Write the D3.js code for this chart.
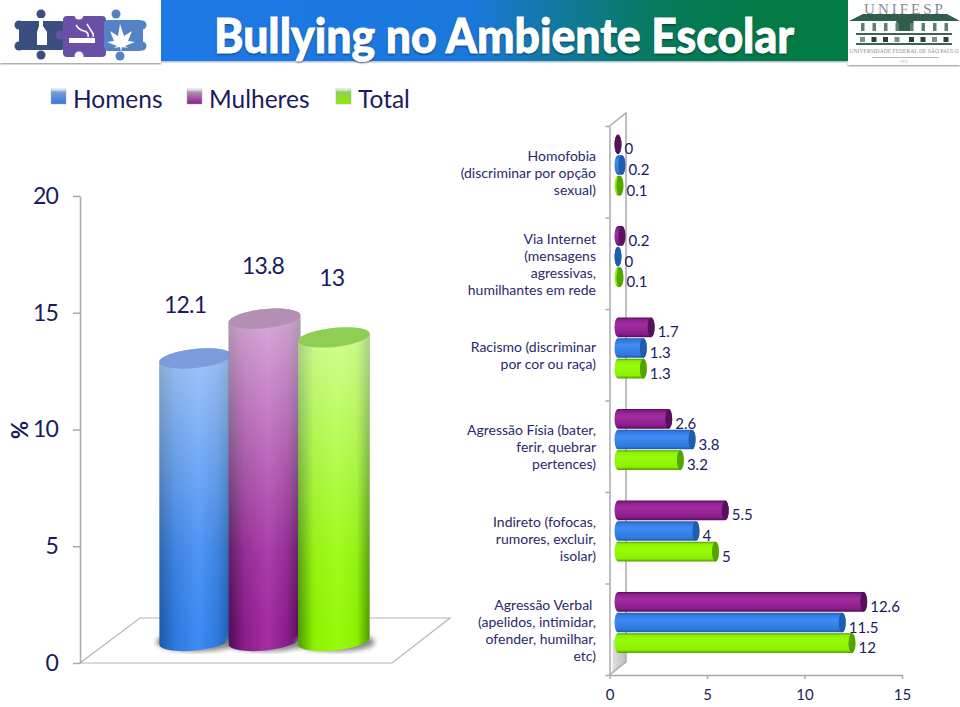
<!DOCTYPE html>
<html>
<head>
<meta charset="utf-8">
<script src="https://cdn.jsdelivr.net/npm/d3@7"></script>
<style>
  html, body { margin: 0; padding: 0; background: #fff; }
  svg { display: block; }
  text { font-family: Lato, "Open Sans", sans-serif; fill: #1b1a5e; }
</style>
</head>
<body>
<div id="map"></div>
<script>
// left chart
const seriesNames = ["Homens", "Mulheres", "Total"];
const overallValues = [12.1, 13.8, 13];
const overallTicks = [0, 5, 10, 15, 20];

// right chart, top row first
const categories = [
  ["Homofobia", "(discriminar por opção", "sexual)"],
  ["Via Internet", "(mensagens", "agressivas,", "humilhantes em rede"],
  ["Racismo (discriminar", "por cor ou raça)"],
  ["Agressão Físia (bater,", "ferir, quebrar", "pertences)"],
  ["Indireto (fofocas,", "rumores, excluir,", "isolar)"],
  ["Agressão Verbal\u00a0", "(apelidos, intimidar,", "ofender, humilhar,", "etc)"]
];
const mulheres = [0, 0.2, 1.7, 2.6, 5.5, 12.6];
const homens = [0.2, 0, 1.3, 3.8, 4, 11.5];
const total = [0.1, 0.1, 1.3, 3.2, 5, 12];
const typeTicks = [0, 5, 10, 15];

const colors = {
  Homens: { light: "#3f8cf5", mid: "#2f78dc", dark: "#1c5aa8", top: "#7b9bdb" },
  Mulheres: { light: "#a32ea3", mid: "#8a1c8a", dark: "#4f0f56", top: "#b48fb4" },
  Total: { light: "#98fb0a", mid: "#8cf000", dark: "#4e9a00", top: "#8fce55" }
};

const svg = d3.select("#map").append("svg").attr("width", 960).attr("height", 707);
const defs = svg.append("defs");

function gradient(id, vertical, stops) {
  const g = defs.append("linearGradient").attr("id", id)
    .attr("x1", 0).attr("y1", 0)
    .attr("x2", vertical ? 0 : 1).attr("y2", vertical ? 1 : 0);
  stops.forEach(function(s) {
    g.append("stop").attr("offset", s[0]).attr("stop-color", s[1]).attr("stop-opacity", s[2] === undefined ? 1 : s[2]);
  });
}

seriesNames.forEach(function(name) {
  const c = colors[name];
  gradient("col" + name, false, [[0, c.dark], [0.22, c.mid], [0.55, c.light], [0.82, c.mid], [1, c.dark]]);
  gradient("bar" + name, true, [[0, c.dark], [0.1, c.mid], [0.35, c.light], [0.85, c.mid], [1, c.dark]]);
  gradient("swatch" + name, true, [[0, "#fff", 1], [0.2, c.top], [1, c.mid]]);
});

defs.append("linearGradient").attr("id", "fade")
  .attr("gradientUnits", "userSpaceOnUse")
  .attr("x1", 0).attr("x2", 0).attr("y1", 320).attr("y2", 630)
  .call(function(g) {
    g.append("stop").attr("offset", 0).attr("stop-color", "#fff").attr("stop-opacity", 0.58);
    g.append("stop").attr("offset", 0.75).attr("stop-color", "#fff").attr("stop-opacity", 0.08);
    g.append("stop").attr("offset", 1).attr("stop-color", "#fff").attr("stop-opacity", 0);
  });

gradient("header", false, [[0, "#1e78e6"], [0.45, "#1a78dc"], [0.72, "#067a5c"], [0.88, "#027a45"], [1, "#027a45"]]);
gradient("wallShade", false, [[0, "#d8d8d8"], [1, "#b4b4b4"]]);
defs.append("filter").attr("id", "blur").append("feGaussianBlur").attr("stdDeviation", 2.5);
defs.append("filter").attr("id", "blurSmall").append("feGaussianBlur").attr("stdDeviation", 1.2);

drawHeader();
drawLegend();
drawOverall();
drawTypes();

// header band and the two logos
function drawHeader() {
  svg.append("rect").attr("x", 0).attr("y", 61).attr("width", 161).attr("height", 3).attr("fill", "#888").attr("filter", "url(#blurSmall)");
  svg.append("rect").attr("x", 161).attr("y", 60).attr("width", 687).attr("height", 2).attr("fill", "#8a9bb8").attr("filter", "url(#blurSmall)");
  svg.append("rect").attr("x", 848).attr("y", 63).attr("width", 112).attr("height", 3).attr("fill", "#888").attr("filter", "url(#blurSmall)");
  svg.append("rect").attr("x", 161).attr("y", 0).attr("width", 687).attr("height", 61).attr("fill", "url(#header)");
  svg.append("rect").attr("x", 0).attr("y", 0).attr("width", 161).attr("height", 63).attr("fill", "#fff");
  svg.append("rect").attr("x", 848).attr("y", 0).attr("width", 112).attr("height", 65).attr("fill", "#fff");

  svg.append("text").attr("x", 214).attr("y", 54).attr("textLength", 580).attr("lengthAdjust", "spacingAndGlyphs")
    .attr("filter", "url(#blurSmall)")
    .style("fill", "#123").style("font-size", "48px").style("font-weight", 900)
    .text("Bullying no Ambiente Escolar");
  svg.append("text").attr("x", 214).attr("y", 53).attr("textLength", 580).attr("lengthAdjust", "spacingAndGlyphs")
    .style("fill", "#fff").style("stroke", "#fff").style("stroke-width", 0.9).style("font-size", "48px").style("font-weight", 900)
    .text("Bullying no Ambiente Escolar");

  // puzzle pieces
  const logo = svg.append("g");
  const pieces = [
    { x: 19, w: 46, y: 21, h: 29, color: "#3b4e80", knobs: [[41, 14], [41, 55], [19, 25], [19, 46]] },
    { x: 63, w: 43, y: 16, h: 41, color: "#6a4fa6", knobs: [[60, 35]] },
    { x: 104, w: 39, y: 20, h: 31, color: "#5482c6", knobs: [[116, 14], [120, 56], [142, 25], [142, 46]] }
  ];
  pieces.forEach(function(p) {
    logo.append("rect").attr("x", p.x).attr("y", p.y).attr("width", p.w).attr("height", p.h).attr("rx", 4).attr("fill", p.color);
    p.knobs.forEach(function(k) {
      logo.append("circle").attr("cx", k[0]).attr("cy", k[1]).attr("r", 4.5).attr("fill", p.color);
    });
  });
  logo.append("circle").attr("cx", 79).attr("cy", 15).attr("r", 4.5).attr("fill", "#fff");
  logo.append("circle").attr("cx", 79).attr("cy", 56).attr("r", 4.5).attr("fill", "#fff");
  logo.append("path").attr("fill", "#fff").attr("d", "M39 18h4v8l4 6v13h-10v-13l2-6z");
  logo.append("rect").attr("x", 69).attr("y", 38).attr("width", 26).attr("height", 5).attr("fill", "#fff");
  logo.append("path").attr("fill", "none").attr("stroke", "#fff").attr("stroke-width", 1.5)
    .attr("d", "M76 25q3 5 8 6t4 6M87 24q3 5 5 8t1 5");
  logo.append("path").attr("fill", "#fff")
    .attr("d", "M120 24l4 12 8-5-4 10 7 1-10 4 3 2-6-1-1 5-1-5-6 1 3-2-10-4 7-1-4-10 8 5z");

  // university logo
  const uni = svg.append("g");
  uni.append("text").attr("x", 905).attr("y", 14).attr("text-anchor", "middle")
    .style("font-family", "'Liberation Serif', serif").style("font-size", "15px").style("letter-spacing", "3px").style("fill", "#8b8794").text("UNIFESP");
  uni.append("path").attr("fill", "#2f5f4a").attr("d", "M849 21l14-7h84l13 7z");
  uni.append("path").attr("fill", "#2f5f4a").attr("d", "M896 20l9-4 9 4-2 11h-14z");
  d3.range(8).forEach(function(i) {
    const px = 861 + i * 11.5 + (i > 3 ? 3 : 0);
    uni.append("rect").attr("x", px).attr("y", 23).attr("width", 3.5).attr("height", 8).attr("fill", "#5f7d70");
    uni.append("rect").attr("x", px - 1).attr("y", 37).attr("width", 5).attr("height", 5).attr("fill", i % 3 ? "#2d3f38" : "#7a9186");
  });
  uni.append("rect").attr("x", 856).attr("y", 33).attr("width", 96).attr("height", 2).attr("fill", "#3d6353");
  uni.append("rect").attr("x", 856).attr("y", 43).attr("width", 96).attr("height", 2).attr("fill", "#3d6353");
  uni.append("text").attr("x", 904).attr("y", 53).attr("text-anchor", "middle")
    .style("font-family", "'Liberation Serif', serif").style("font-size", "5.6px").style("fill", "#8f8f8f").text("UNIVERSIDADE FEDERAL DE SÃO PAULO");
  uni.append("rect").attr("x", 872).attr("y", 57).attr("width", 67).attr("height", 0.7).attr("fill", "#999");
  uni.append("text").attr("x", 904).attr("y", 63).attr("text-anchor", "middle")
    .style("font-family", "'Liberation Serif', serif").style("font-size", "4px").style("fill", "#aaa").text("1933");
}

function drawLegend() {
  const swatchX = { Homens: 51, Mulheres: 187, Total: 336 };
  const textX = { Homens: 73, Mulheres: 209, Total: 358 };
  const g = svg.append("g").selectAll("g").data(seriesNames).enter().append("g");
  g.append("rect")
    .attr("x", function(d) { return swatchX[d]; })
    .attr("y", 89).attr("width", 15).attr("height", 15)
    .attr("fill", function(d) { return "url(#swatch" + d + ")"; })
    .attr("stroke", "#aab").attr("stroke-width", 0.5);
  g.append("text")
    .attr("x", function(d) { return textX[d]; })
    .attr("y", 108).style("font-size", "24.5px")
    .text(function(d) { return d; });
}

// cylinder column chart
function drawOverall() {
  const y = d3.scaleLinear().domain([0, 20]).range([663, 196]);
  const x = d3.scaleBand().domain(seriesNames).range([160, 368]).padding(0);
  const depthY = -22;
  const rx = 36, ry = 9.5, tilt = 6 * Math.PI / 180;
  const dx = rx * Math.cos(tilt), dy = rx * Math.sin(tilt);

  // floor
  svg.append("path").attr("fill", "#fff").attr("stroke", "#b5b5bd").attr("stroke-width", 1.2)
    .attr("d", d3.line()([[80, y(0)], [392, y(0)], [450, 618], [140, 618]]) + "Z");

  const axis = svg.append("g").attr("transform", "translate(80,0)")
    .call(d3.axisLeft(y).tickValues(overallTicks).tickSize(7).tickSizeOuter(0).tickPadding(15));
  axis.selectAll("path,line").attr("stroke", "#a9a9b5").attr("stroke-width", 1.5);
  axis.selectAll("text").style("font-size", "23px").style("letter-spacing", "-0.8px").style("font-family", "Lato, sans-serif").attr("fill", "#1b1a5e");

  svg.append("text").attr("transform", "translate(28,430) rotate(-90)")
    .attr("text-anchor", "middle").style("font-size", "22px").style("font-weight", 700).text("%");

  const data = seriesNames.map(function(n, i) { return { name: n, value: overallValues[i] }; });
  const cols = svg.append("g").selectAll("g").data(data).enter().append("g");

  function cx(d) { return x(d.name) + x.bandwidth() / 2 + 0.5; }

  cols.append("ellipse")
    .attr("cx", function(d) { return cx(d) + 1; })
    .attr("cy", y(0) + depthY + 1).attr("rx", rx + 4).attr("ry", ry)
    .attr("fill", "#888").attr("filter", "url(#blur)");

  function body(d) {
    const c = cx(d), top = y(d.value) + depthY, base = y(0) + depthY;
    return "M" + (c - dx) + "," + (top + dy) +
      "L" + (c - dx) + "," + (base + dy) +
      "A" + rx + "," + ry + " -6 0 0 " + (c + dx) + "," + (base - dy) +
      "L" + (c + dx) + "," + (top - dy) +
      "A" + rx + "," + ry + " -6 0 0 " + (c - dx) + "," + (top + dy) + "Z";
  }
  cols.append("path").attr("d", body).attr("fill", function(d) { return "url(#col" + d.name + ")"; });
  cols.append("path").attr("d", body).attr("fill", "url(#fade)");
  cols.append("ellipse")
    .attr("transform", function(d) { return "translate(" + cx(d) + "," + (y(d.value) + depthY) + ") rotate(-6)"; })
    .attr("rx", rx).attr("ry", ry)
    .attr("fill", function(d) { return colors[d.name].top; });

  const labelDx = { Homens: -10, Mulheres: -1.5, Total: -2 };
  const labelDy = { Homens: -45, Mulheres: -45, Total: -51 };
  cols.append("text")
    .attr("x", function(d) { return cx(d) + labelDx[d.name]; })
    .attr("y", function(d) { return y(d.value) + depthY + labelDy[d.name]; })
    .attr("text-anchor", "middle").style("font-size", "23px").style("letter-spacing", "-0.8px")
    .text(function(d) { return d.value; });
}

// horizontal cylinders by bullying type
function drawTypes() {
  const x = d3.scaleLinear().domain([0, 15]).range([609.5, 902]);
  const y = d3.scaleBand().domain(d3.range(categories.length)).range([126, 675]);
  const order = ["Mulheres", "Homens", "Total"];
  const values = { Mulheres: mulheres, Homens: homens, Total: total };
  const inner = d3.scaleBand().domain(order).range([0, 62]);
  const wallX = 16.5, wallY = -13, depthX = 8.5;
  const rx = 3.5;

  // back wall and floor edge
  const x0 = x(0);
  svg.append("path").attr("fill", "url(#wallShade)").attr("opacity", 0.85)
    .attr("d", d3.line()([[x0 + 3, 673], [x0 + wallX, 662], [x0 + wallX, 640], [x0 + 3, 640]]) + "Z");
  svg.append("path").attr("fill", "none").attr("stroke", "#a9a9b5").attr("stroke-width", 1.5)
    .attr("d", d3.line()([[x0, 675], [x0 + wallX, 662], [x0 + wallX, 126 + wallY], [x0, 126]]));

  const axisY = svg.append("g").attr("transform", "translate(" + x0 + ",0)")
    .call(d3.axisLeft(d3.scaleLinear().domain([0, categories.length]).range([675, 126])).ticks(categories.length).tickSize(4).tickSizeOuter(0).tickFormat(""));
  axisY.selectAll("path,line").attr("stroke", "#a9a9b5").attr("stroke-width", 1.5);

  const axisX = svg.append("g").attr("transform", "translate(0,675)")
    .call(d3.axisBottom(x).tickValues(typeTicks).tickSize(4).tickSizeOuter(0).tickPadding(10));
  axisX.selectAll("path,line").attr("stroke", "#a9a9b5").attr("stroke-width", 1.5);
  axisX.selectAll("text").style("font-size", "15px").style("font-family", "Lato, sans-serif").attr("fill", "#1b1a5e");

  // category labels
  const lab = svg.append("g").selectAll("text").data(categories).enter().append("text")
    .attr("text-anchor", "end").style("font-size", "14px").style("fill", "#2a2a68");
  lab.selectAll("tspan").data(function(d, i) {
    return d.map(function(line, j) { return { line: line, row: i, j: j, n: d.length }; });
  }).enter().append("tspan")
    .attr("x", 596)
    .attr("y", function(d) { return y(d.row) + y.bandwidth() / 2 + 6 + (d.j - (d.n - 1) / 2) * 17; })
    .text(function(d) { return d.line; });

  // bars, a row at a time so later cylinders sit over earlier labels
  categories.forEach(function(cat, row) {
    order.forEach(function(name) {
      const v = values[name][row];
      const h = inner.bandwidth() - 1;
      const top = y(row) + 8.5 + inner(name);
      const cy = top + h / 2;
      const start = x(0) + depthX;
      const end = x(v) + depthX;
      const g = svg.append("g");
      g.append("path").attr("fill", "url(#bar" + name + ")")
        .attr("d", "M" + start + "," + top + "L" + end + "," + top +
          "A" + rx + "," + (h / 2) + " 0 0 1 " + end + "," + (top + h) +
          "L" + start + "," + (top + h) +
          "A" + rx + "," + (h / 2) + " 0 0 1 " + start + "," + top + "Z");
      g.append("ellipse").attr("cx", end).attr("cy", cy).attr("rx", rx).attr("ry", h / 2)
        .attr("fill", colors[name].dark).attr("opacity", 0.9);
      g.append("text").attr("x", end + rx + 3).attr("y", cy + 10).style("font-size", "15px").text(v);
    });
  });
}
</script>
</body>
</html>
